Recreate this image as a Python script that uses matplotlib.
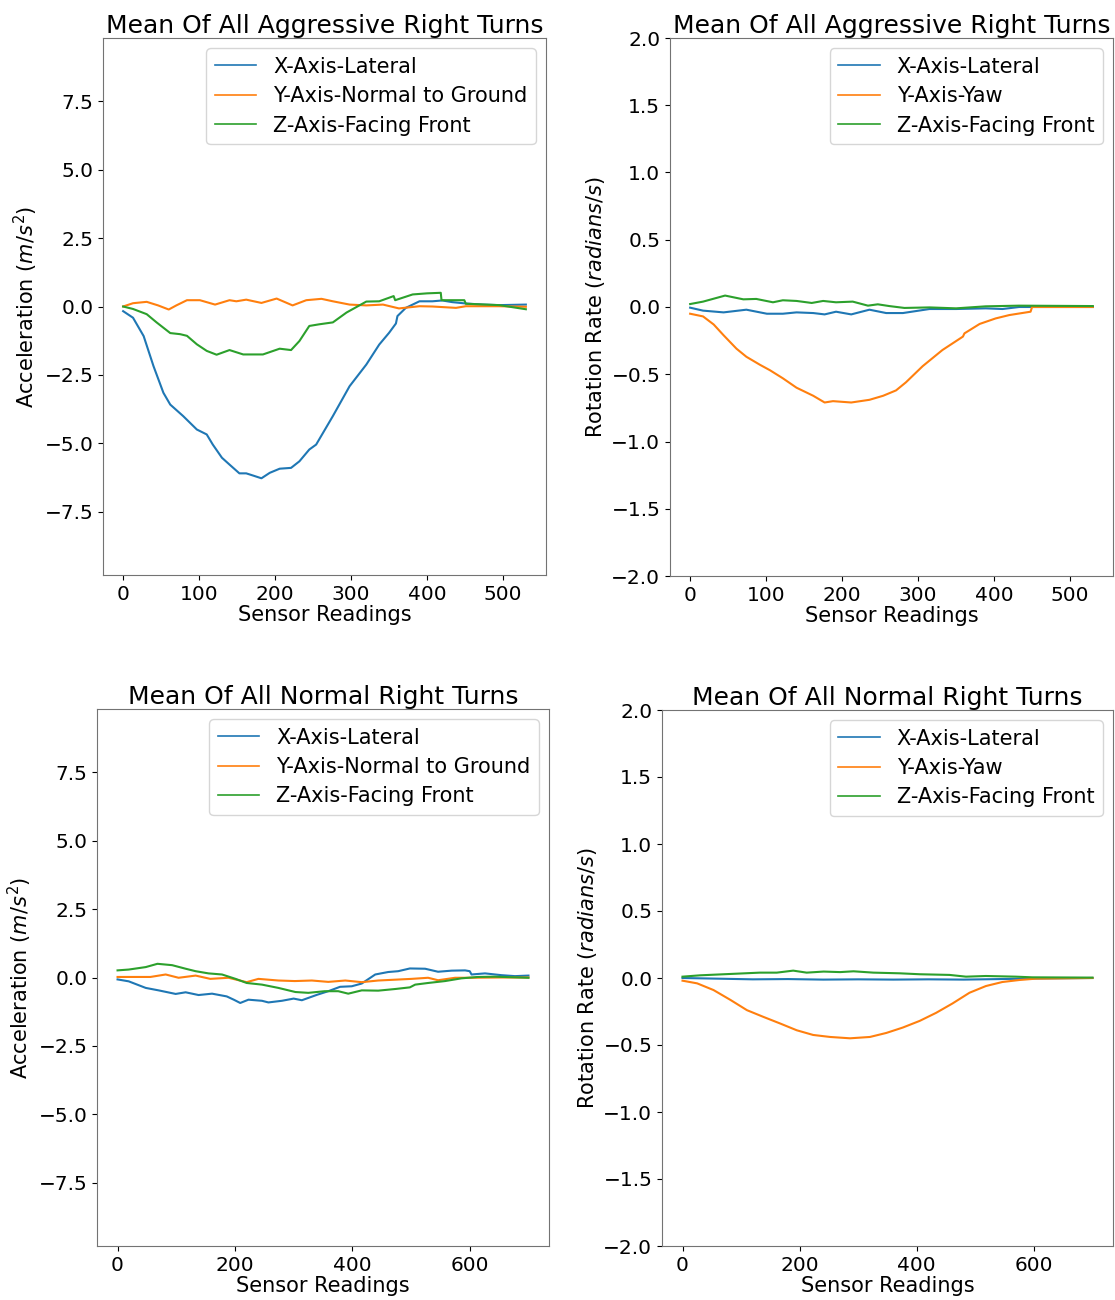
import matplotlib
matplotlib.use("Agg")
import matplotlib.pyplot as plt

# ---------------- Aggressive right turns: acceleration ----------------
agg_acc_lat_idx = [0, 13, 27, 40, 53, 62, 79, 97, 110, 118, 130, 140, 153, 162, 171, 182, 193, 206, 221, 232,
                   245, 254, 276, 298, 320, 337, 350, 359, 361, 372, 390, 407, 420, 433, 451, 473, 495, 530]
agg_acc_lat = [-0.17, -0.41, -1.08, -2.18, -3.15, -3.58, -4.0, -4.49, -4.67, -5.04, -5.52, -5.77, -6.09, -6.09,
               -6.17, -6.27, -6.07, -5.92, -5.89, -5.65, -5.22, -5.04, -4.0, -2.91, -2.12, -1.39, -0.96, -0.62,
               -0.35, -0.05, 0.19, 0.19, 0.22, 0.16, 0.11, 0.07, 0.05, 0.07]

agg_acc_nrm_idx = [0, 13, 31, 46, 60, 70, 84, 101, 121, 140, 149, 162, 182, 202, 223, 241, 261, 276, 298, 320,
                   342, 363, 390, 407, 438, 451, 495, 530]
agg_acc_nrm = [0.0, 0.12, 0.17, 0.04, -0.11, 0.04, 0.23, 0.23, 0.07, 0.23, 0.19, 0.25, 0.13, 0.29, 0.04, 0.23,
               0.28, 0.19, 0.07, 0.04, 0.07, -0.07, 0.01, 0.0, -0.05, 0.01, 0.01, -0.01]

agg_acc_frt_idx = [0, 13, 31, 44, 62, 75, 84, 97, 110, 123, 140, 158, 184, 206, 221, 232, 245, 258, 276, 294,
                   320, 337, 356, 358, 381, 400, 418, 419, 449, 451, 495, 530]
agg_acc_frt = [0.0, -0.09, -0.28, -0.58, -0.97, -1.01, -1.07, -1.38, -1.62, -1.76, -1.59, -1.75, -1.75, -1.54,
               -1.59, -1.26, -0.71, -0.65, -0.58, -0.22, 0.18, 0.19, 0.38, 0.23, 0.44, 0.48, 0.5, 0.23, 0.23,
               0.10, 0.05, -0.1]

# ---------------- Aggressive right turns: rotation ----------------
agg_rot_lat_idx = [0, 17, 44, 74, 101, 122, 140, 162, 177, 192, 212, 236, 258, 280, 315, 350, 389, 411, 433, 530]
agg_rot_lat = [-0.005, -0.027, -0.04, -0.02, -0.05, -0.05, -0.04, -0.045, -0.055, -0.035, -0.055, -0.02,
               -0.045, -0.045, -0.015, -0.015, -0.01, -0.015, 0.0, 0.0]

agg_rot_yaw_idx = [0, 17, 31, 44, 61, 74, 92, 105, 122, 140, 162, 177, 188, 212, 236, 254, 271, 284, 306, 332,
                   359, 361, 381, 402, 420, 448, 450, 530]
agg_rot_yaw = [-0.05, -0.07, -0.13, -0.21, -0.31, -0.37, -0.43, -0.47, -0.53, -0.60, -0.66, -0.71, -0.70,
               -0.71, -0.69, -0.66, -0.62, -0.56, -0.44, -0.32, -0.22, -0.196, -0.126, -0.085, -0.06, -0.035,
               0.0, 0.0]

agg_rot_frt_idx = [0, 17, 46, 70, 87, 109, 122, 140, 160, 175, 192, 214, 234, 247, 262, 282, 315, 350, 389, 433, 530]
agg_rot_frt = [0.022, 0.04, 0.085, 0.057, 0.06, 0.035, 0.05, 0.045, 0.03, 0.045, 0.035, 0.04, 0.01, 0.02,
               0.007, -0.007, -0.003, -0.01, 0.005, 0.01, 0.007]

# ---------------- Normal right turns: acceleration ----------------
nrm_acc_lat_idx = [0, 19, 48, 70, 99, 116, 138, 161, 186, 198, 209, 223, 246, 257, 280, 300, 314, 340, 359, 379,
                   399, 416, 439, 461, 478, 498, 524, 546, 569, 592, 600, 603, 626, 654, 677, 700]
nrm_acc_lat = [-0.07, -0.14, -0.38, -0.47, -0.6, -0.54, -0.64, -0.59, -0.69, -0.81, -0.93, -0.81, -0.85,
               -0.91, -0.85, -0.77, -0.83, -0.63, -0.50, -0.34, -0.32, -0.22, 0.11, 0.20, 0.23, 0.33, 0.32,
               0.21, 0.25, 0.26, 0.23, 0.11, 0.15, 0.085, 0.05, 0.07]

nrm_acc_nrm_idx = [0, 19, 56, 82, 104, 133, 158, 189, 220, 240, 274, 302, 331, 359, 388, 416, 444, 501, 529,
                   546, 575, 600, 650, 700]
nrm_acc_nrm = [0.02, 0.02, 0.02, 0.11, -0.01, 0.07, -0.05, -0.01, -0.17, -0.05, -0.11, -0.13, -0.11, -0.16,
               -0.11, -0.17, -0.11, -0.05, -0.01, -0.10, -0.01, -0.01, 0.0, 0.0]

nrm_acc_frt_idx = [0, 19, 48, 68, 93, 116, 133, 155, 178, 201, 220, 246, 274, 303, 325, 353, 376, 393, 416,
                   444, 473, 498, 507, 529, 558, 586, 614, 643, 700]
nrm_acc_frt = [0.26, 0.29, 0.38, 0.50, 0.45, 0.32, 0.23, 0.15, 0.11, -0.05, -0.20, -0.26, -0.38, -0.53,
               -0.56, -0.50, -0.50, -0.59, -0.47, -0.48, -0.42, -0.36, -0.26, -0.20, -0.13, -0.03, 0.02,
               0.03, -0.01]

# ---------------- Normal right turns: rotation ----------------
nrm_rot_lat_idx = [0, 60, 120, 180, 240, 300, 360, 420, 480, 540, 600, 700]
nrm_rot_lat = [0.0, -0.005, -0.01, -0.008, -0.012, -0.01, -0.012, -0.01, -0.012, -0.008, -0.004, 0.0]

nrm_rot_yaw_idx = [0, 25, 53, 82, 110, 138, 167, 195, 223, 252, 286, 320, 348, 376, 405, 433, 461, 490, 518,
                   546, 575, 603, 700]
nrm_rot_yaw = [-0.02, -0.04, -0.09, -0.164, -0.24, -0.29, -0.34, -0.39, -0.425, -0.44, -0.45, -0.44, -0.41,
               -0.37, -0.32, -0.26, -0.19, -0.11, -0.06, -0.03, -0.015, -0.005, 0.0]

nrm_rot_frt_idx = [0, 30, 81, 132, 161, 189, 212, 241, 269, 292, 326, 371, 405, 456, 484, 518, 569, 597, 700]
nrm_rot_frt = [0.01, 0.02, 0.03, 0.04, 0.04, 0.055, 0.04, 0.048, 0.044, 0.05, 0.04, 0.035, 0.028, 0.023,
               0.01, 0.015, 0.01, 0.005, 0.003]

acc_labels = ["X-Axis-Lateral", "Y-Axis-Normal to Ground", "Z-Axis-Facing Front"]
rot_labels = ["X-Axis-Lateral", "Y-Axis-Yaw", "Z-Axis-Facing Front"]
titles = ["Mean Of All Aggressive Right Turns", "Mean Of All Normal Right Turns"]
acc_ticks = [-7.5, -5.0, -2.5, 0.0, 2.5, 5.0, 7.5]
rot_ticks = [-2.0, -1.5, -1.0, -0.5, 0.0, 0.5, 1.0, 1.5, 2.0]

plt.rcParams['font.family'] = ['DejaVu Sans']
TICK_FS = 14.5
LABEL_FS = 15
LEG_FS = 15
TITLE_FS = 18

fig = plt.figure(figsize=(11.15, 13), dpi=100)
W, H = 1115, 1300


def ax_at(l, t, r, b):
    return fig.add_axes([l / W, 1 - b / H, (r - l) / W, (b - t) / H])


axes = [ax_at(103, 38, 546, 575), ax_at(670, 38, 1113, 576),
        ax_at(97, 709, 549, 1246), ax_at(662, 710, 1113, 1246)]

data = [
    [(agg_acc_lat_idx, agg_acc_lat), (agg_acc_nrm_idx, agg_acc_nrm), (agg_acc_frt_idx, agg_acc_frt)],
    [(agg_rot_lat_idx, agg_rot_lat), (agg_rot_yaw_idx, agg_rot_yaw), (agg_rot_frt_idx, agg_rot_frt)],
    [(nrm_acc_lat_idx, nrm_acc_lat), (nrm_acc_nrm_idx, nrm_acc_nrm), (nrm_acc_frt_idx, nrm_acc_frt)],
    [(nrm_rot_lat_idx, nrm_rot_lat), (nrm_rot_yaw_idx, nrm_rot_yaw), (nrm_rot_frt_idx, nrm_rot_frt)],
]
colors = ["#1f77b4", "#ff7f0e", "#2ca02c"]

for i, ax in enumerate(axes):
    is_acc = (i % 2 == 0)
    labels = acc_labels if is_acc else rot_labels
    for (xs, ys), c, lab in zip(data[i], colors, labels):
        ax.plot(xs, ys, color=c, lw=1.5, label=lab)
    if is_acc:
        ax.set_ylim(-9.8, 9.8)
        ax.set_yticks(acc_ticks)
        ax.set_ylabel("Acceleration ($m/s^2$)", fontsize=LABEL_FS, labelpad=3)
    else:
        ax.set_ylim(-2.0, 2.0)
        ax.set_yticks(rot_ticks)
        ax.set_ylabel("Rotation Rate ($radians/s$)", fontsize=LABEL_FS, labelpad=3)
    ax.set_title(titles[i // 2], fontsize=TITLE_FS, pad=3)
    ax.set_xlabel("Sensor Readings", fontsize=LABEL_FS, labelpad=1)
    ax.tick_params(labelsize=TICK_FS)
    for s in ax.spines.values():
        s.set_color("0.45")
    leg = ax.legend(loc="upper right", fontsize=LEG_FS, labelspacing=0.45)
    for h in leg.get_lines():
        h.set_linewidth(1.2)

fig.savefig("out.png", dpi=100)
